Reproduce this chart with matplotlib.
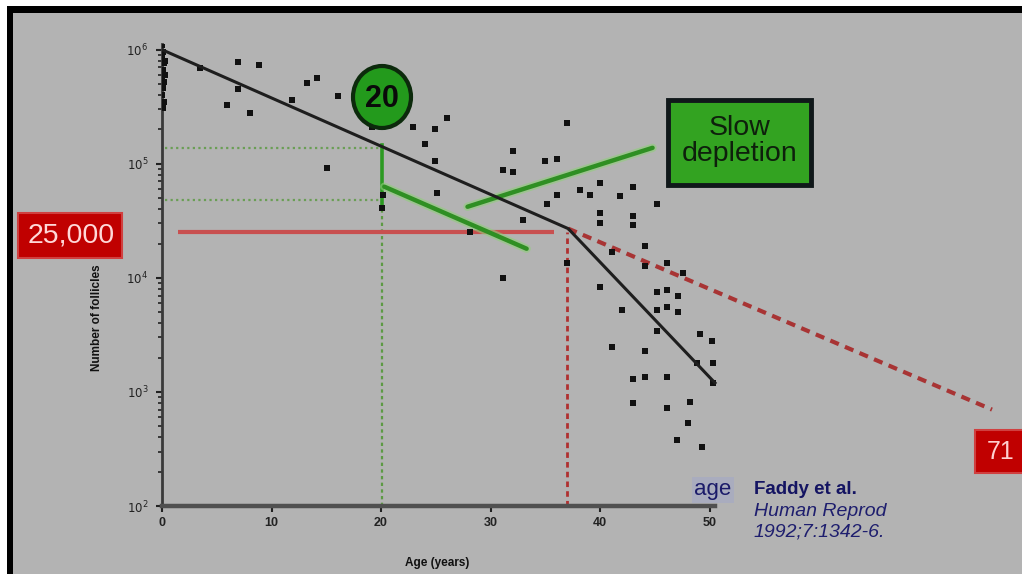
import matplotlib
matplotlib.use("Agg")
import matplotlib.pyplot as plt
from matplotlib.patches import Rectangle, Ellipse
from matplotlib.ticker import LogLocator, FixedLocator

plt.rcParams['font.family'] = ['Liberation Sans', 'DejaVu Sans']

W, H, DPI = 1022, 574, 100

# Observed follicle counts (age in years, number of follicles)
ages = [0.0, 0.1, 0.0, 0.2, 0.1, 0.0, 0.2, 0.1, 0.0, 0.2, 0.1, 0.3, 0.3,
        3.5, 6.9, 8.9, 5.9, 8.0, 6.9, 11.9, 13.2, 14.2, 16.1, 15.1, 19.2,
        20.2, 20.1, 22.9, 24.9, 26.0, 24.0, 24.9, 25.1, 32.1, 35.0, 36.1,
        37.0, 31.1, 32.1, 35.2, 36.1, 38.2, 39.1, 40.0, 41.8, 43.0, 45.2,
        40.0, 40.0, 43.0, 43.0, 33.0, 28.1, 31.1, 37.0, 41.1, 44.1, 44.1,
        46.1, 47.6, 40.0, 45.2, 46.1, 47.1, 42.0, 45.2, 46.1, 47.1, 45.2,
        49.1, 50.2, 41.1, 44.1, 48.9, 50.3, 44.1, 43.0, 46.1, 50.3, 43.0,
        46.1, 48.2, 48.0, 47.0, 49.3]
counts = [1.1e6, 9.6e5, 8.5e5, 7.6e5, 6.6e5, 5.9e5, 5.2e5, 4.6e5, 4.0e5, 3.5e5, 3.1e5, 8.0e5, 6.0e5,
          6.9e5, 7.8e5, 7.4e5, 3.3e5, 2.8e5, 4.5e5, 3.6e5, 5.1e5, 5.7e5, 3.9e5, 9.1e4, 2.1e5,
          5.3e4, 4.1e4, 2.1e5, 2.0e5, 2.5e5, 1.5e5, 1.05e5, 5.6e4, 1.3e5, 1.05e5, 1.1e5,
          2.3e5, 8.9e4, 8.4e4, 4.4e4, 5.3e4, 5.9e4, 5.3e4, 6.8e4, 5.2e4, 6.3e4, 4.4e4,
          3.7e4, 3.0e4, 3.5e4, 2.9e4, 3.2e4, 2.5e4, 1.0e4, 1.35e4, 1.7e4, 1.9e4, 1.26e4,
          1.35e4, 1.1e4, 8.3e3, 7.5e3, 7.8e3, 7.0e3, 5.2e3, 5.2e3, 5.5e3, 5.0e3, 3.4e3,
          3.2e3, 2.8e3, 2.5e3, 2.3e3, 1.8e3, 1.8e3, 1.35e3, 1.3e3, 1.35e3, 1.2e3, 800,
          720, 820, 530, 380, 330]

# Fitted two-phase decline
model_ages = [0.0, 37.1, 50.5]
model_counts = [1.0e6, 2.7e4, 1.2e3]

# Slow-depletion extrapolation past the kink
slow_ages = [37.1, 75.8]
slow_counts = [2.7e4, 7.0e2]

threshold = 25000          # follicles at the change point
change_age = 37.0
age_mark = 20.1            # reference age
count_at_20_fit = 1.38e5
count_at_20_slow = 4.8e4
slow_arrow_a = ([20.3, 33.3], [6.3e4, 1.8e4])
slow_arrow_b = ([44.8, 27.9], [1.38e5, 4.2e4])

xticks = [0, 10, 20, 30, 40, 50]
yticks = [1e2, 1e3, 1e4, 1e5, 1e6]
ytick_labels = ['$10^{2}$', '$10^{3}$', '$10^{4}$', '$10^{5}$', '$10^{6}$']

BG = '#b3b3b3'
GREEN = '#2f8f23'

fig = plt.figure(figsize=(W / DPI, H / DPI), dpi=DPI, facecolor=BG)

def fx(px):
    return px / W

def fy(py):
    return 1 - py / H

# main plot area
ax_left, ax_right = 162, 162 + 78 * 10.95
ax = fig.add_axes([fx(ax_left), fy(506), fx(ax_right) - fx(ax_left), fy(44) - fy(506)])
ax.set_facecolor('none')
ax.set_yscale('log')
ax.set_xlim(0, 78)
ax.set_ylim(1e2, 10 ** 6.05)

for s in ['top', 'right']:
    ax.spines[s].set_visible(False)
ax.spines['bottom'].set_bounds(0, 50.5)
ax.spines['bottom'].set_linewidth(3.2)
ax.spines['bottom'].set_color('#505050')
ax.spines['left'].set_linewidth(2)
ax.spines['left'].set_color('#3a3a3a')

ax.xaxis.set_major_locator(FixedLocator(xticks))
ax.set_xticklabels([str(t) for t in xticks], fontsize=9, fontweight='bold', color='#222')
ax.yaxis.set_major_locator(FixedLocator(yticks))
ax.set_yticklabels(ytick_labels, fontsize=8.5, color='#222')
ax.yaxis.set_minor_locator(LogLocator(base=10, subs=range(2, 10)))
ax.yaxis.set_minor_formatter(plt.NullFormatter())
ax.tick_params(axis='x', length=4, width=1.5, color='#222', pad=4)
ax.tick_params(axis='y', which='major', length=4, width=1.5, color='#222', pad=6)
ax.tick_params(axis='y', which='minor', length=3, width=1.2, color='#222')

fig.text(fx(437), fy(563), 'Age (years)', fontsize=8.5, fontweight='bold',
         ha='center', va='center', color='#111')
fig.text(fx(97), fy(318), 'Number of follicles', rotation=90, fontsize=8.5,
         ha='center', va='center', color='#111', fontweight='bold')

# guide lines at age 20
ax.plot([0.3, age_mark], [count_at_20_fit] * 2, ls=(0, (1, 1.5)), color='#6a9e55', lw=1.6, zorder=2)
ax.plot([0.3, age_mark], [count_at_20_slow] * 2, ls=(0, (1, 1.5)), color='#6a9e55', lw=1.6, zorder=2)
ax.plot([age_mark, age_mark], [1e2, 4.0e4], ls=(0, (1.5, 1.5)), color='#5d9a45', lw=1.6, zorder=2)
ax.plot([age_mark, age_mark], [4.0e4, 1.45e5], color='#2c9a22', lw=2.6, zorder=2)

# threshold lines
ax.plot([1.5, 35.8], [threshold] * 2, color='#c85050', lw=3, zorder=2, solid_capstyle='butt')
ax.plot([change_age, change_age], [1e2, threshold], ls=(0, (2, 1.5)), color='#b03030', lw=2, zorder=2)
ax.plot(slow_ages, slow_counts, ls=(0, (2.2, 1.6)), color='#a83434', lw=3, zorder=2, clip_on=False)

# slow-depletion arrows
for xs, ys in (slow_arrow_a, slow_arrow_b):
    ax.plot(xs, ys, color='#8fcf7a', lw=6, alpha=0.6, zorder=3, solid_capstyle='round')
    ax.plot(xs, ys, color=GREEN, lw=3.2, zorder=3, solid_capstyle='round')

# data and fit
ax.scatter(ages, counts, marker='s', s=14, color='#111', zorder=4, linewidths=0)
ax.plot(model_ages, model_counts, color='#1e1e1e', lw=2.2, zorder=5)

# overlay in pixel coordinates for the callout boxes
ov = fig.add_axes([0, 0, 1, 1])
ov.set_xlim(0, W)
ov.set_ylim(H, 0)
ov.axis('off')
ov.set_facecolor('none')

# frame strokes
ov.add_patch(Rectangle((0, 0), W, 6, color='white', lw=0))
ov.add_patch(Rectangle((0, 6), W, 7, color='black', lw=0))
ov.add_patch(Rectangle((0, 6), 7, H, color='white', lw=0))
ov.add_patch(Rectangle((7, 6), 5.5, H, color='black', lw=0))

# "20" badge
ov.add_patch(Ellipse((382, 97), 58, 62, facecolor='#239a1c', edgecolor='#0c2a0c', lw=3))
ov.text(382, 99, '20', fontsize=22, fontweight='bold', color='#0a0a0a', ha='center', va='center')

# "Slow depletion" box
ov.add_patch(Rectangle((668, 100), 143, 85, facecolor='#33a321', edgecolor='#10181a', lw=3.5))
ov.text(740, 141, 'Slow\ndepletion', fontsize=20.5, color='#0e200c', ha='center', va='center',
        linespacing=1.0)

# threshold label
ov.add_patch(Rectangle((18, 213), 104, 45, facecolor='#c00000', edgecolor='#d04040', lw=1.5))
ov.text(71, 236, '25,000', fontsize=20.5, color='#ffd8d8', ha='center', va='center')

# age label for extrapolation
ov.add_patch(Rectangle((975, 430), 50, 43, facecolor='#c00000', edgecolor='#d04040', lw=1.5))
ov.text(1001, 452, '71', fontsize=18, color='#ffd0d0', ha='center', va='center')

# source
ov.text(713, 490, 'age', fontsize=16, color='#1b1b6a', ha='center', va='center',
        bbox=dict(boxstyle='square,pad=0.1', facecolor='#a9acbe', edgecolor='none'))
ov.text(754, 489, 'Faddy et al.', fontsize=13.5, fontweight='bold', color='#141462', ha='left', va='center')
ov.text(754, 511, 'Human Reprod', fontsize=14, style='italic', color='#1e1e6e', ha='left', va='center')
ov.text(754, 532, '1992;7:1342-6.', fontsize=14, style='italic', color='#1e1e6e', ha='left', va='center')

fig.savefig('out.png', dpi=DPI, facecolor=BG)
